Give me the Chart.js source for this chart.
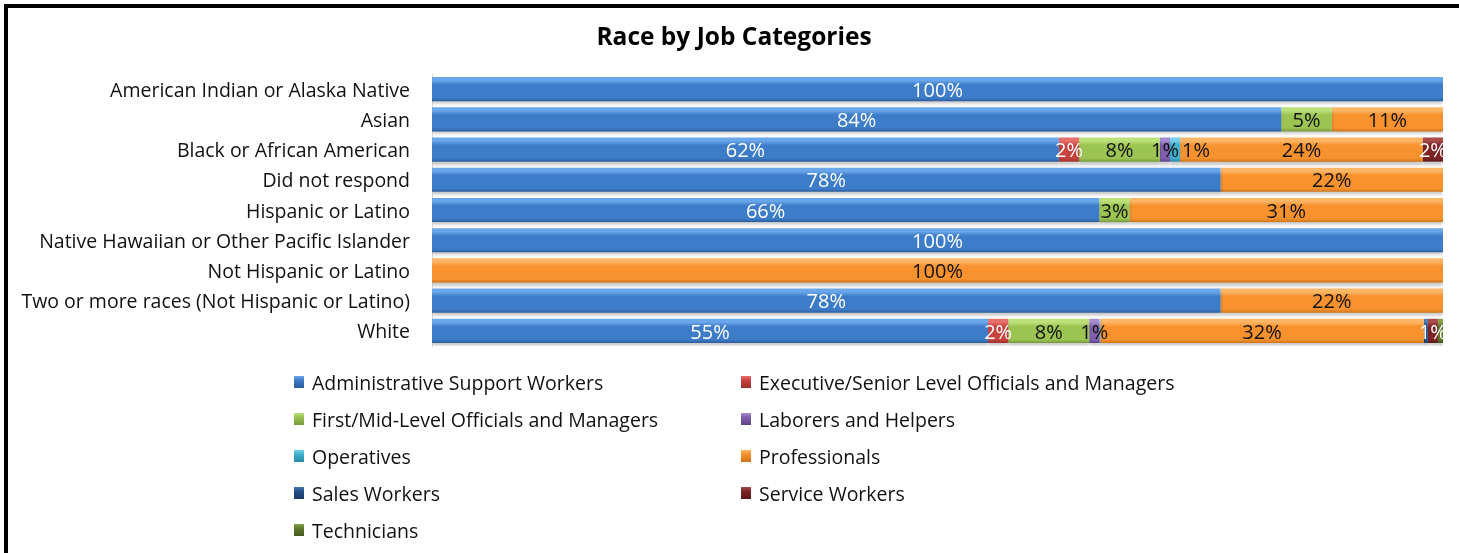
<!DOCTYPE html>
<html>
<head>
<meta charset="utf-8">
<script src="https://cdn.jsdelivr.net/npm/chart.js@4"></script>
<style>
  html, body { margin: 0; padding: 0; background: #fff; }
  #wrap { position: relative; width: 1459px; height: 553px; overflow: hidden; }
  #frame { position: absolute; left: 4px; top: 4px; right: -10px; bottom: -10px;
           border-top: 4px solid #000; border-left: 4px solid #000; pointer-events: none; }
  canvas { position: absolute; left: 0; top: 0; }
</style>
</head>
<body>
<div id="wrap">
  <canvas id="c" width="1459" height="553"></canvas>
  <div id="frame"></div>
</div>
<script>
// Race groups (rows, top to bottom)
const races = [
  'American Indian or Alaska Native',
  'Asian',
  'Black or African American',
  'Did not respond',
  'Hispanic or Latino',
  'Native Hawaiian or Other Pacific Islander',
  'Not Hispanic or Latino',
  'Two or more races (Not Hispanic or Latino)',
  'White'
];

// Share of each race group by job category, in percent
const adminSupport   = [100, 84, 62, 78, 66, 100, 0, 78, 55];
const execSenior     = [0, 0, 2, 0, 0, 0, 0, 0, 2];
const firstMid       = [0, 5, 8, 0, 3, 0, 0, 0, 8];
const laborers       = [0, 0, 1, 0, 0, 0, 0, 0, 1];
const operatives     = [0, 0, 1, 0, 0, 0, 0, 0, 0.1];
const professionals  = [0, 11, 24, 22, 31, 0, 100, 22, 32];
const salesWorkers   = [0, 0, 0, 0, 0, 0, 0, 0, 0.4];
const serviceWorkers = [0, 0, 2, 0, 0, 0, 0, 0, 1];
const technicians    = [0, 0, 0, 0, 0, 0, 0, 0, 0.5];

const FONT = '"Open Sans", "Noto Sans", sans-serif';
const CATEGORY_PCT = 0.8;

// [label, values, base colour, light top colour, dark edge colour, label text colour]
const series = [
  ['Administrative Support Workers', adminSupport, '#3d7cc9', '#6aa6ea', '#2c5d9c', '#ffffff'],
  ['Executive/Senior Level Officials and Managers', execSenior, '#c8423e', '#e8706b', '#9a2f2c', '#ffffff'],
  ['First/Mid-Level Officials and Managers', firstMid, '#9bc453', '#bde07a', '#77993b', '#111111'],
  ['Laborers and Helpers', laborers, '#7f5fad', '#a88bd0', '#5e4384', '#111111'],
  ['Operatives', operatives, '#3fb0cf', '#72d0ea', '#2a87a1', '#111111'],
  ['Professionals', professionals, '#f7922e', '#fdb665', '#cf7418', '#111111'],
  ['Sales Workers', salesWorkers, '#25508a', '#4a78b4', '#1a3a66', '#ffffff'],
  ['Service Workers', serviceWorkers, '#7d2424', '#a84a48', '#5a1818', '#ffffff'],
  ['Technicians', technicians, '#5e7a2a', '#85a34a', '#42581c', '#ffffff']
];

// Bevel-like vertical gradient for each bar, built from the category scale
function bevelFill(base, light, dark) {
  return (ctx) => {
    const chart = ctx.chart;
    const ys = chart.scales && chart.scales.y;
    if (!chart.chartArea || !ys || ctx.type !== 'data') return base;
    const cy = ys.getPixelForValue(ctx.dataIndex);
    const half = (chart.chartArea.height / chart.data.labels.length) * CATEGORY_PCT / 2;
    const g = chart.ctx.createLinearGradient(0, cy - half, 0, cy + half);
    g.addColorStop(0, light);
    g.addColorStop(0.14, light);
    g.addColorStop(0.32, base);
    g.addColorStop(0.86, base);
    g.addColorStop(1, dark);
    return g;
  };
}

// Soft drop shadow under the bars
const barShadow = {
  id: 'barShadow',
  beforeDatasetsDraw(chart) {
    const c = chart.ctx;
    c.save();
    c.shadowColor = 'rgba(0,0,0,0.22)';
    c.shadowBlur = 3;
    c.shadowOffsetY = 3;
  },
  afterDatasetsDraw(chart) { chart.ctx.restore(); }
};

// Percentage labels centred in each segment; neighbours that would collide are nudged right
const segmentLabels = {
  id: 'segmentLabels',
  afterDatasetsDraw(chart) {
    const c = chart.ctx;
    c.save();
    c.font = '20px ' + FONT;
    c.textAlign = 'center';
    c.textBaseline = 'middle';
    const lastRight = {};
    chart.data.datasets.forEach((ds, di) => {
      const meta = chart.getDatasetMeta(di);
      meta.data.forEach((bar, i) => {
        const v = ds.data[i];
        if (v < 1) return;
        const txt = Math.round(v) + '%';
        const w = c.measureText(txt).width;
        let cx = (bar.x + bar.base) / 2;
        if (lastRight[i] !== undefined && cx - w / 2 < lastRight[i] + 3) cx = lastRight[i] + 3 + w / 2;
        lastRight[i] = cx + w / 2;
        c.fillStyle = ds.labelColor;
        c.fillText(txt, cx, bar.y + 2);
      });
    });
    c.restore();
  }
};

// Title and two-column legend
const titleAndLegend = {
  id: 'titleAndLegend',
  afterDraw(chart) {
    const c = chart.ctx;
    c.save();
    c.fillStyle = '#000';
    c.font = 'bold 24.5px ' + FONT;
    c.textAlign = 'center';
    c.textBaseline = 'middle';
    c.fillText('Race by Job Categories', 734, 38);

    c.font = '19.5px ' + FONT;
    c.textAlign = 'left';
    const colX = [294, 741], rowY = 382, rowStep = 37;
    chart.data.datasets.forEach((ds, i) => {
      const x = colX[i % 2], y = rowY + Math.floor(i / 2) * rowStep;
      const g = c.createLinearGradient(0, y - 6, 0, y + 6);
      g.addColorStop(0, ds.lightColor);
      g.addColorStop(0.35, ds.baseColor);
      g.addColorStop(1, ds.darkColor);
      c.fillStyle = g;
      c.fillRect(x, y - 6, 10, 12);
      c.fillStyle = '#111';
      c.fillText(ds.label, x + 18, y + 2);
    });
    c.restore();
  }
};

new Chart(document.getElementById('c'), {
  type: 'bar',
  data: {
    labels: races,
    datasets: series.map(([label, data, base, light, dark, txt]) => ({
      label, data,
      baseColor: base, lightColor: light, darkColor: dark, labelColor: txt,
      backgroundColor: bevelFill(base, light, dark),
      borderWidth: 0,
      categoryPercentage: CATEGORY_PCT,
      barPercentage: 1.0
    }))
  },
  options: {
    indexAxis: 'y',
    responsive: false,
    animation: false,
    layout: { padding: { left: 0, right: 16, top: 74, bottom: 207 } },
    plugins: { legend: { display: false }, title: { display: false }, tooltip: { enabled: false } },
    scales: {
      x: { stacked: true, min: 0, max: 100, display: false },
      y: {
        stacked: true,
        afterFit(scale) { scale.width = 432; },
        border: { display: true, color: '#d9d9d9' },
        grid: { display: false, drawTicks: false },
        ticks: { color: '#111', font: { family: FONT, size: 19.5 }, padding: 22, labelOffset: 2, autoSkip: false }
      }
    }
  },
  plugins: [barShadow, segmentLabels, titleAndLegend]
});
</script>
</body>
</html>
